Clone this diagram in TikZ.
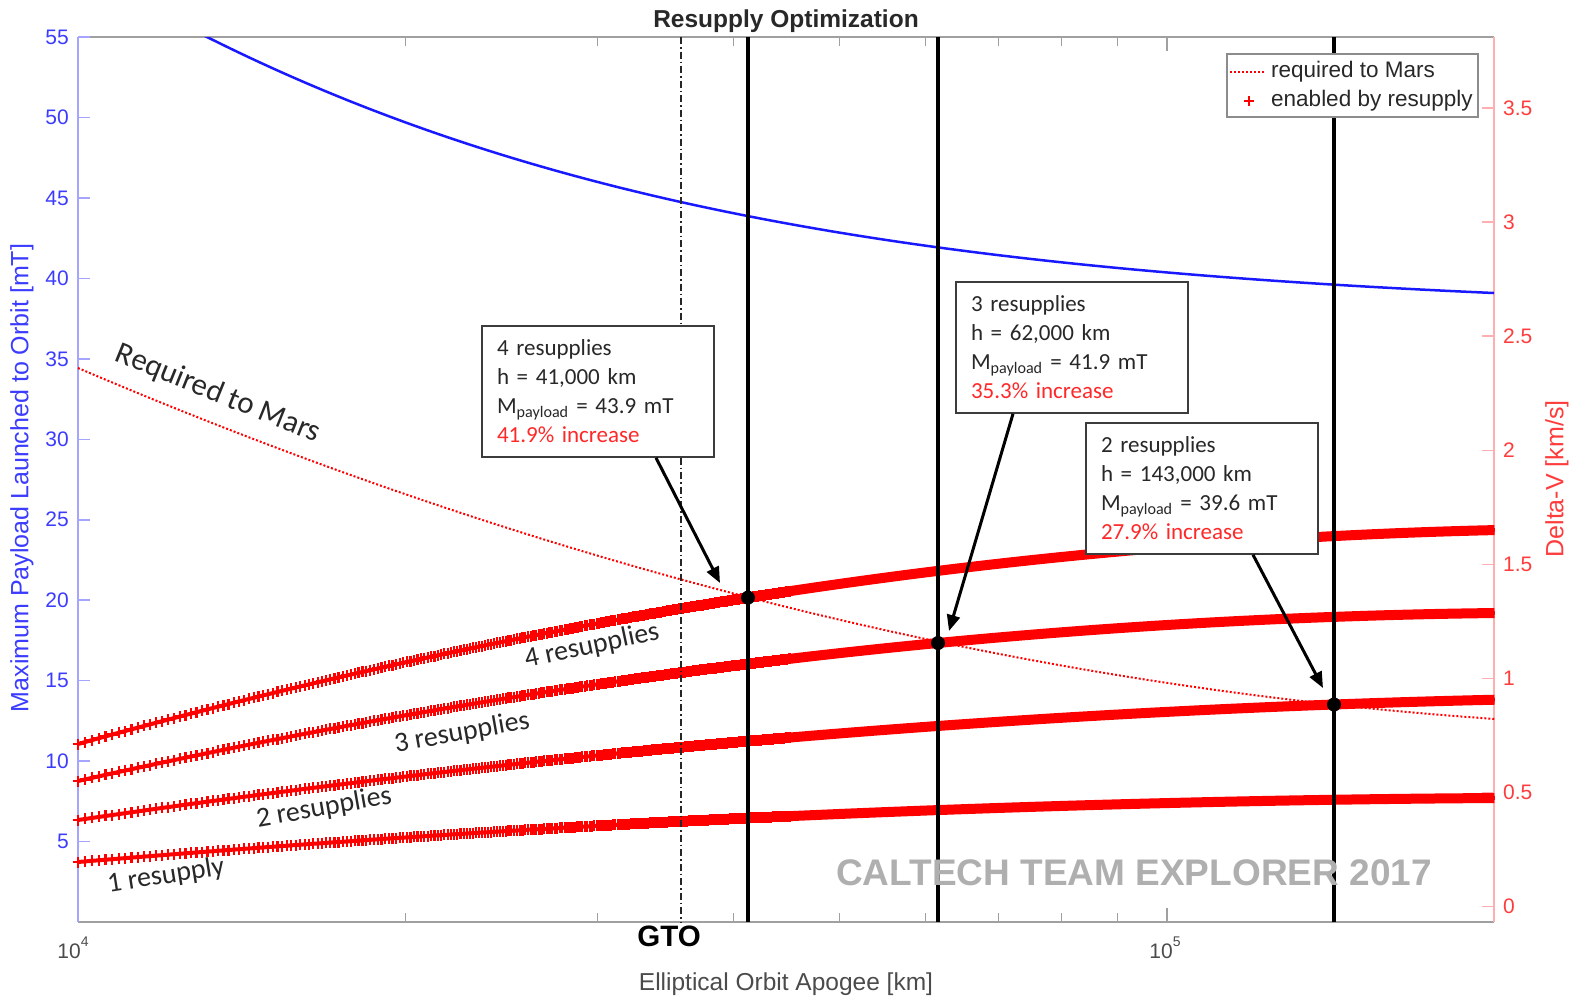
\documentclass[tikz,border=0pt]{standalone}
\usepackage{fontspec}
\setmainfont{Liberation Sans}
\newfontfamily\calib{Carlito}
\usetikzlibrary{arrows.meta}
\definecolor{axblue}{RGB}{165,165,255}
\definecolor{txtblue}{RGB}{60,60,255}
\definecolor{axred}{RGB}{255,175,175}
\definecolor{txtred}{RGB}{255,60,60}
\definecolor{curvered}{RGB}{255,0,0}
\definecolor{curveblue}{RGB}{25,25,255}
\definecolor{framegray}{RGB}{160,160,160}
\definecolor{labgray}{RGB}{75,75,75}
\definecolor{wmgray}{RGB}{175,175,175}
\definecolor{boxtext}{RGB}{40,40,40}
\definecolor{boxborder}{RGB}{60,60,60}
\definecolor{legborder}{RGB}{140,140,140}
\definecolor{incred}{RGB}{255,40,40}
\tikzset{
  ylab/.style={font=\fontsize{21}{21}\selectfont, text=txtblue, anchor=east, inner sep=0pt},
  dvlab/.style={font=\fontsize{21}{21}\selectfont, text=txtred, anchor=west, inner sep=0pt},
  xlab/.style={font=\fontsize{21}{21}\selectfont, text=labgray, inner sep=0pt},
  leglab/.style={font=\fontsize{22.5}{22.5}\selectfont, text=boxtext, anchor=west, inner sep=0pt},
  annbox/.style={draw=boxborder, line width=1.6pt, fill=white, minimum width=232pt, minimum height=131pt, text width=202pt, align=left, inner xsep=15pt, font=\calib\fontsize{23}{29}\selectfont, text=boxtext},
  curvelab/.style={font=\calib\fontsize{28}{28}\selectfont, text=boxtext, inner sep=0pt},
  vline/.style={line width=3.5pt, black},
  dot/.style={circle, fill=black, inner sep=0pt, minimum size=14pt},
  arr/.style={line width=3pt, -{Triangle[length=16pt, width=13pt]}},
  rcore/.style={curvered, line width=4pt},
  rthick/.style={curvered, line width=10pt},
  reqline/.style={curvered, line width=2pt, dash pattern=on 2pt off 2pt},
  declare function={uu(\h)=ln(\h/10)/2.302585;}
}
\newcommand\rescurve[3]{%
  \draw[rcore] plot[domain=0:1.301, samples=90] ({78+1089*\x},{#1+(#2)*\x+(#3)*\x*\x});
  \draw[rthick] plot[domain=0.55:1.301, samples=70] ({78+1089*\x},{#1+(#2)*\x+(#3)*\x*\x});
  \draw[curvered, line width=2.2pt] plot[domain=10:45.1, samples=235, only marks, mark=+, mark size=5.5pt] ({78+472.95*ln(\x/10)},{#1+(#2)*uu(\x)+(#3)*uu(\x)*uu(\x)});
}
\begin{document}
\begin{tikzpicture}[x=1pt,y=-1pt]
\useasboundingbox (0,0) rectangle (1580,999);
% frame
\draw[framegray, line width=1.5pt] (78,37) -- (1494,37);
\draw[framegray, line width=1.5pt] (78,922) -- (1494,922);
\draw[axblue, line width=1.5pt] (78,37) -- (78,922);
\draw[axred, line width=1.5pt] (1494,37) -- (1494,922);
% x ticks
\foreach \m in {2,...,9} {
  \draw[framegray, line width=1.2pt] ({78+472.95*ln(\m)},922) -- ++(0,-9);
  \draw[framegray, line width=1.2pt] ({78+472.95*ln(\m)},37) -- ++(0,9);
}
\draw[framegray, line width=1.2pt] (1167,922) -- ++(0,-14);
\draw[framegray, line width=1.2pt] (1167,37) -- ++(0,14);
\node[xlab] (x4) at (73,948) {10\raisebox{1.1ex}{\fontsize{14}{14}\selectfont 4}};
\node[xlab] (x5) at (1165,948) {10\raisebox{1.1ex}{\fontsize{14}{14}\selectfont 5}};
\node[xlab, font=\fontsize{24.5}{24.5}\selectfont] (xt) at (786,984) {Elliptical Orbit Apogee [km]};
% left ticks
\foreach \v in {5,10,...,55} {
  \draw[axblue, line width=1.5pt] (78,{922-16.09*\v}) -- ++(12,0);
  \node[ylab] (yl\v) at (69,{922-16.09*\v}) {\v};
}
% right ticks
\foreach \d/\t in {0/0,0.5/0.5,1/1,1.5/1.5,2/2,2.5/2.5,3/3,3.5/3.5} {
  \draw[axred, line width=1.5pt] (1494,{906.7-228.2*\d}) -- ++(-12,0);
  \node[dvlab] (rl\d) at (1503,{906.7-228.2*\d}) {\t};
}
\node[ylab, anchor=center, rotate=90, font=\fontsize{25}{25}\selectfont] (ylabel) at (22,478) {Maximum Payload Launched to Orbit [mT]};
\node[dvlab, anchor=center, rotate=90, font=\fontsize{25}{25}\selectfont] (rlabel) at (1557,479) {Delta-V [km/s]};
\node[font=\bfseries\fontsize{24.5}{24.5}\selectfont, text=boxtext, inner sep=0pt] (title) at (786,21) {Resupply Optimization};
% blue curve
\begin{scope}
\clip (78,37) rectangle (1494,922);
\draw[curveblue, line width=2.5pt] plot[domain=195:1494, samples=120] (\x,{922-16.09*(37.78+264.792/(10*exp((\x-78)/472.95)+2.2386))});
\end{scope}
% required to Mars
\draw[reqline] plot[domain=0:1.301, samples=90] ({78+1089*\x},{368+464.9*\x-150*\x*\x});
% resupply curves
\rescurve{744}{-303.9}{107.2}
\rescurve{781}{-245.3}{89.3}
\rescurve{820}{-160.2}{52.07}
\rescurve{862}{-91.33}{32.39}
% GTO line
\coordinate (gtoT) at (681,37);
\coordinate (gtoB) at (681,922);
\draw[black!85, line width=1.3pt, dash pattern=on 7pt off 3pt on 1.5pt off 3pt] (gtoT) -- (gtoB);
\node[font=\bfseries\fontsize{29.5}{29.5}\selectfont, inner sep=0pt] (gto) at (669,936) {GTO};
% vertical lines
\coordinate (v4T) at (748,37);  \coordinate (v4B) at (748,922);
\coordinate (v3T) at (938,37);  \coordinate (v3B) at (938,922);
\coordinate (v2T) at (1334,37); \coordinate (v2B) at (1334,922);
\draw[vline] (v4T) -- (v4B);
\draw[vline] (v3T) -- (v3B);
\draw[vline] (v2T) -- (v2B);
% dots
\node[dot] (d4) at (748,597.6) {};
\node[dot] (d3) at (938,643) {};
\node[dot] (d2) at (1334,704.5) {};
% watermark
\node[font=\bfseries\fontsize{37}{37}\selectfont, text=wmgray, inner sep=0pt] (wm) at (1134,873) {CALTECH TEAM EXPLORER 2017};
% legend
\node[draw=legborder, line width=1.5pt, fill=white, minimum width=251pt, minimum height=63pt, inner sep=0pt] (leg) at (1352.5,85.5) {};
\coordinate (lq1) at (1230,72);
\coordinate (lq2) at (1265,72);
\draw[reqline] (lq1) -- (lq2);
\node[leglab] (leg1) at (1271,72) {required to Mars};
\draw[curvered, line width=2.2pt] plot[only marks, mark=+, mark size=5pt] coordinates {(1249,101)};
\node[leglab] (leg2) at (1271,101) {enabled by resupply};
% annotation boxes
\node[annbox] (b4) at (598,391.5) {4 resupplies\\h = 41,000 km\\M\textsubscript{payload} = 43.9 mT\\\textcolor{incred}{41.9\% increase}};
\node[annbox] (b3) at (1072,347.5) {3 resupplies\\h = 62,000 km\\M\textsubscript{payload} = 41.9 mT\\\textcolor{incred}{35.3\% increase}};
\node[annbox] (b2) at (1202,488.5) {2 resupplies\\h = 143,000 km\\M\textsubscript{payload} = 39.6 mT\\\textcolor{incred}{27.9\% increase}};
% arrows
\coordinate (t4) at (720,583);
\coordinate (t3) at (949,631);
\coordinate (t2) at (1323,688);
\draw[arr] ([xshift=58pt]b4.south) -- (t4);
\draw[arr] ([xshift=-59pt]b3.south) -- (t3);
\draw[arr] ([xshift=51pt]b2.south) -- (t2);
% curve labels
\node[curvelab, rotate=-22, font=\calib\fontsize{31}{31}\selectfont] (lreq) at (218,394) {Required to Mars};
\node[curvelab, rotate=12] (l4) at (592,646) {4 resupplies};
\node[curvelab, rotate=10] (l3) at (462,733) {3 resupplies};
\node[curvelab, rotate=10] (l2) at (324,808) {2 resupplies};
\node[curvelab, rotate=9] (l1) at (166,876) {1 resupply};
\end{tikzpicture}
\end{document}
